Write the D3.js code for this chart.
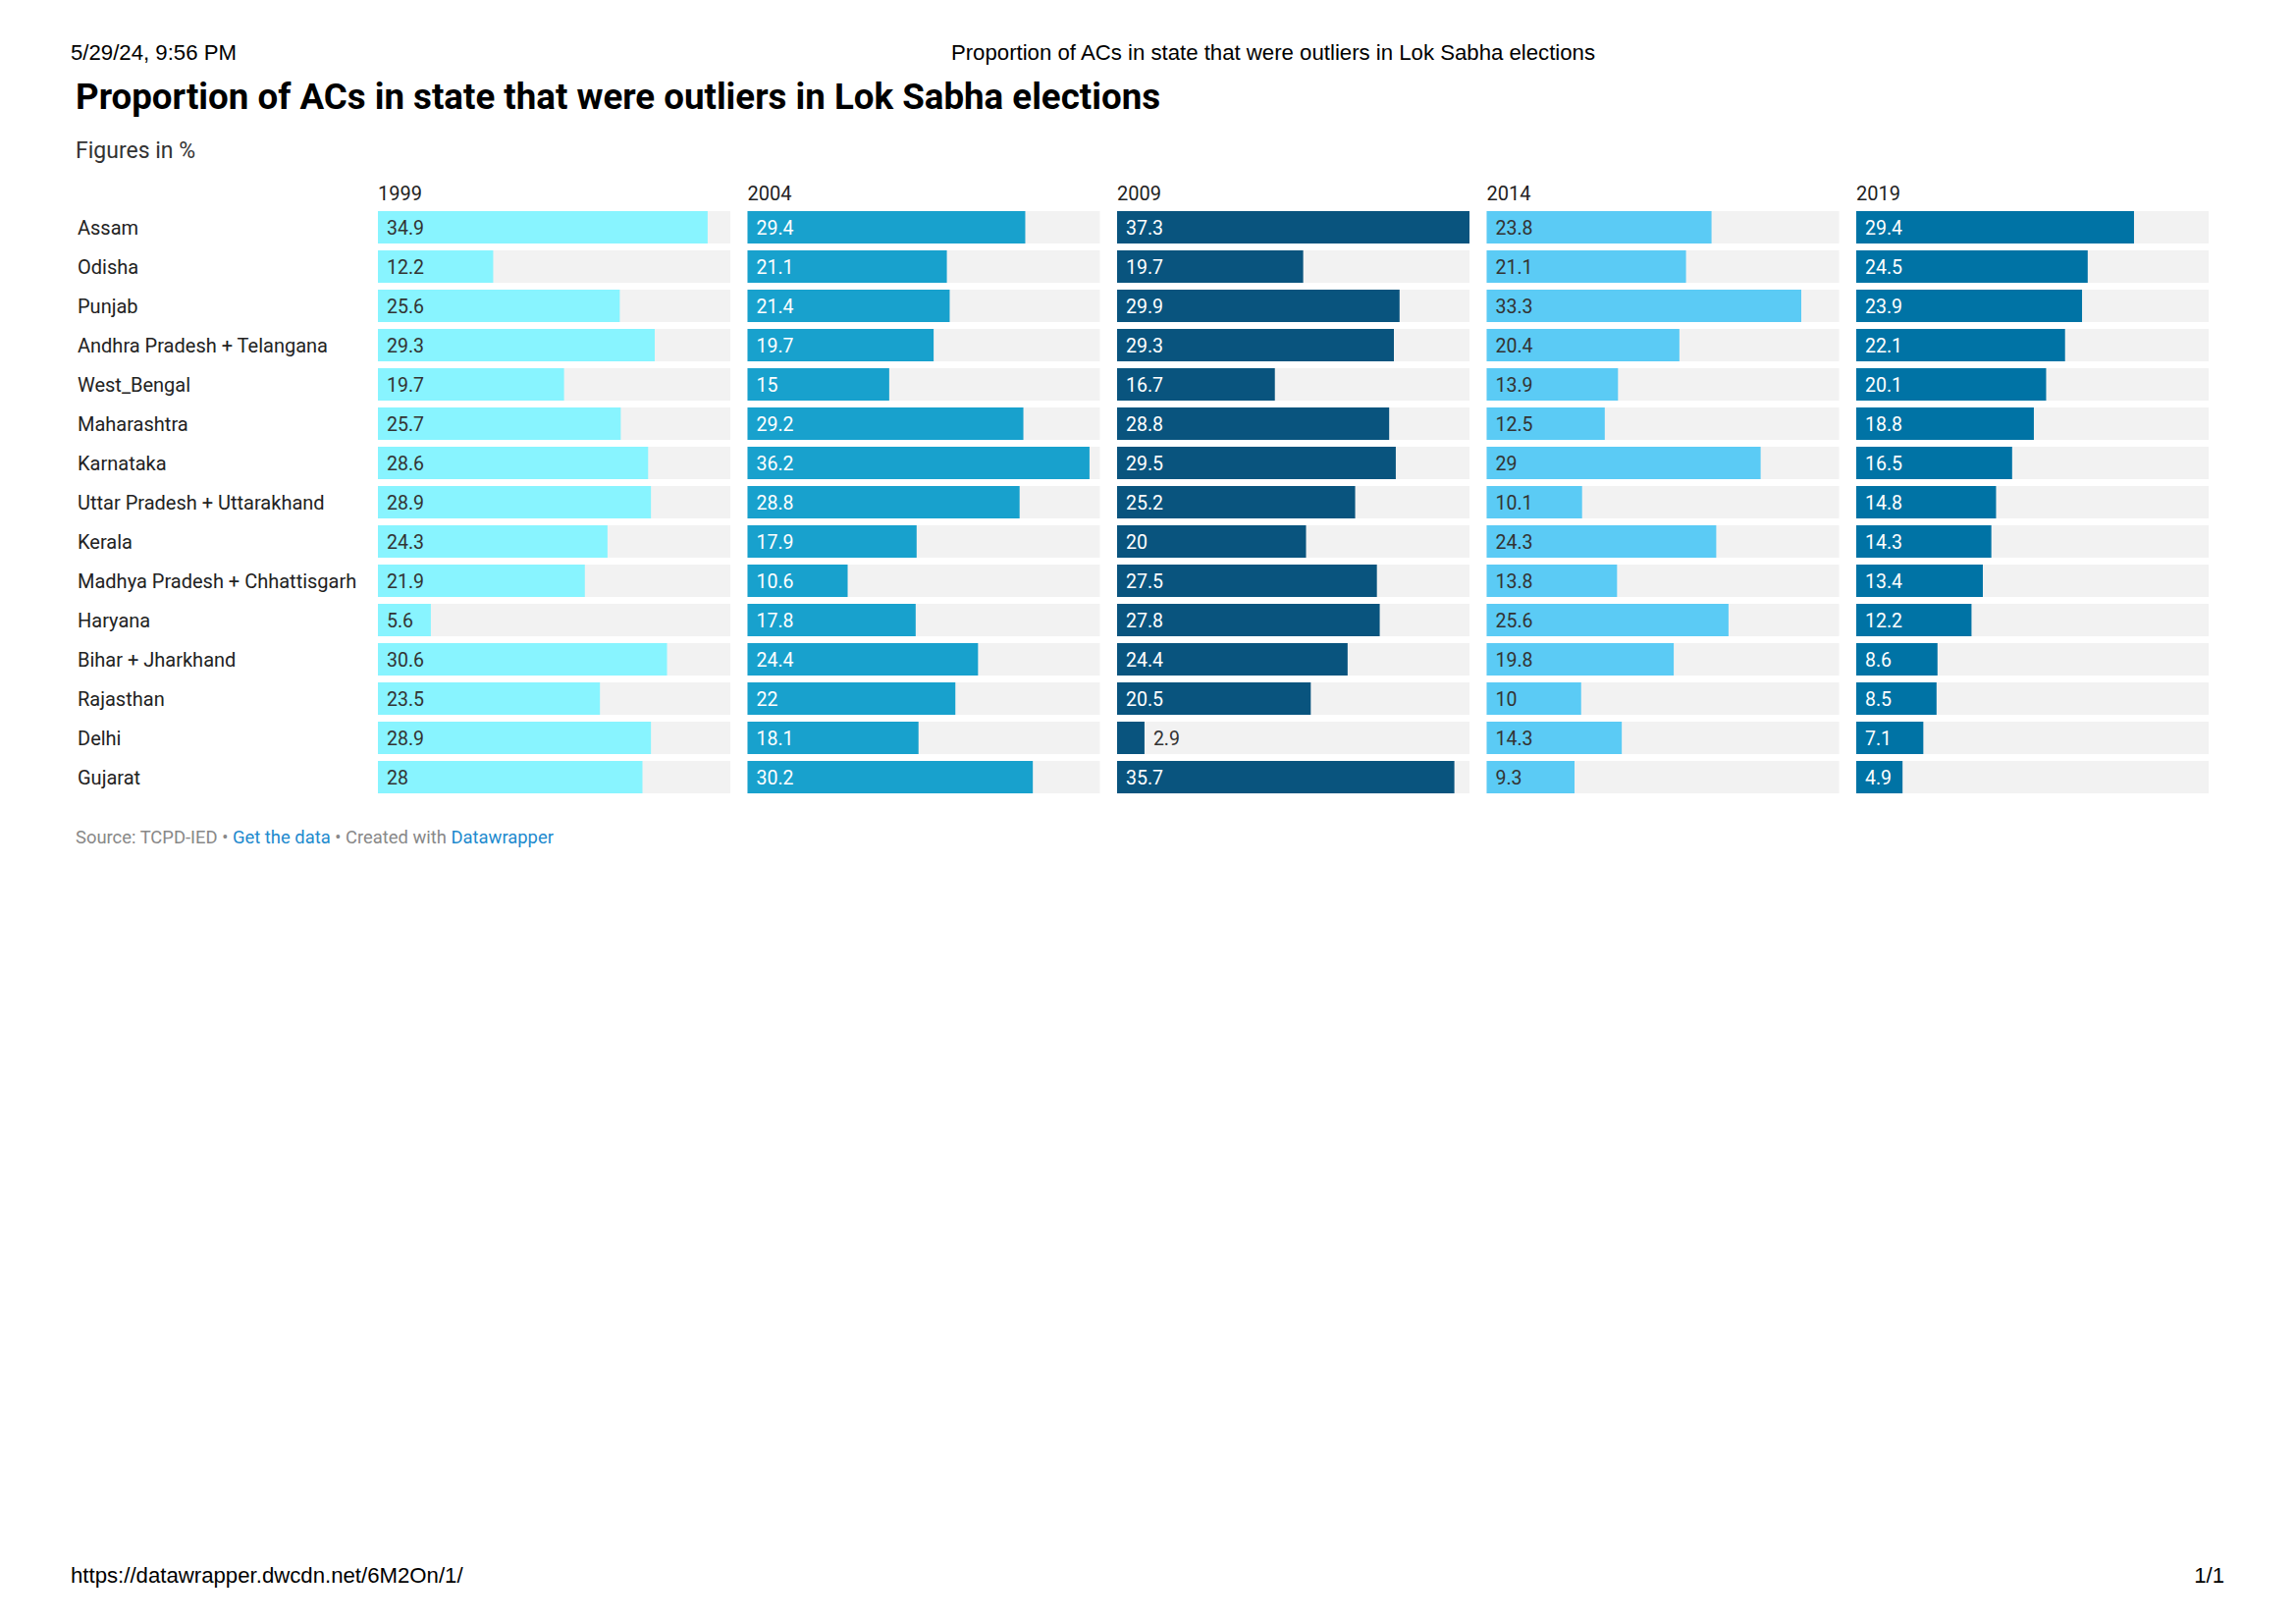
<!DOCTYPE html>
<html>
<head>
<meta charset="utf-8">
<script src="https://cdn.jsdelivr.net/npm/d3@7"></script>
<style>
  body { margin: 0; background: #fff; }
  svg text { font-family: Roboto, sans-serif; }
</style>
</head>
<body>
<div id="chart"></div>
<script>

var states = ["Assam", "Odisha", "Punjab", "Andhra Pradesh + Telangana", "West_Bengal", "Maharashtra",
  "Karnataka", "Uttar Pradesh + Uttarakhand", "Kerala", "Madhya Pradesh + Chhattisgarh", "Haryana",
  "Bihar + Jharkhand", "Rajasthan", "Delhi", "Gujarat"];

var years = ["1999", "2004", "2009", "2014", "2019"];

var v1999 = [34.9, 12.2, 25.6, 29.3, 19.7, 25.7, 28.6, 28.9, 24.3, 21.9, 5.6, 30.6, 23.5, 28.9, 28];
var v2004 = [29.4, 21.1, 21.4, 19.7, 15, 29.2, 36.2, 28.8, 17.9, 10.6, 17.8, 24.4, 22, 18.1, 30.2];
var v2009 = [37.3, 19.7, 29.9, 29.3, 16.7, 28.8, 29.5, 25.2, 20, 27.5, 27.8, 24.4, 20.5, 2.9, 35.7];
var v2014 = [23.8, 21.1, 33.3, 20.4, 13.9, 12.5, 29, 10.1, 24.3, 13.8, 25.6, 19.8, 10, 14.3, 9.3];
var v2019 = [29.4, 24.5, 23.9, 22.1, 20.1, 18.8, 16.5, 14.8, 14.3, 13.4, 12.2, 8.6, 8.5, 7.1, 4.9];

var series = [v1999, v2004, v2009, v2014, v2019];
var colors = ["#88f4ff", "#18a1cd", "#09547e", "#5bcbf5", "#0073a5"];
var darkBar = [false, true, true, false, true];

var totalWidth = 2339, totalHeight = 1653;

var svg = d3.select("#chart").append("svg")
  .attr("width", totalWidth)
  .attr("height", totalHeight);

var printFont = "'Liberation Sans', Arial, sans-serif";

// print header / footer
svg.append("text").attr("x", 72).attr("y", 60.5)
  .style("font-family", printFont).style("font-size", "22.2px").attr("fill", "#000")
  .text("5/29/24, 9:56 PM");
svg.append("text").attr("x", 1297).attr("y", 60.5).attr("text-anchor", "middle")
  .style("font-family", printFont).style("font-size", "22.2px").attr("fill", "#000")
  .text("Proportion of ACs in state that were outliers in Lok Sabha elections");
svg.append("text").attr("x", 72).attr("y", 1611.5)
  .style("font-family", printFont).style("font-size", "22.2px").attr("fill", "#000")
  .text("https://datawrapper.dwcdn.net/6M2On/1/");
svg.append("text").attr("x", 2266).attr("y", 1611.5).attr("text-anchor", "end")
  .style("font-family", printFont).style("font-size", "22.2px").attr("fill", "#000")
  .text("1/1");

// title
svg.append("text").attr("x", 77).attr("y", 111)
  .style("font-size", "36.7px").style("font-weight", "700").attr("fill", "#000")
  .text("Proportion of ACs in state that were outliers in Lok Sabha elections");
svg.append("text").attr("x", 77).attr("y", 161)
  .style("font-size", "23px").attr("fill", "#333")
  .text("Figures in %");

var colScale = d3.scaleBand()
  .domain(years)
  .range([385, 2250])
  .paddingInner(0.0465)
  .paddingOuter(0);

var yScale = d3.scaleBand()
  .domain(states)
  .range([215, 808])
  .paddingInner(0.175)
  .paddingOuter(0);

var xScale = d3.scaleLinear()
  .domain([0, d3.max(series, function (s) { return d3.max(s); })])
  .range([0, colScale.bandwidth()]);

// row labels
svg.append("g").selectAll("text")
  .data(states)
  .enter().append("text")
  .attr("x", 79)
  .attr("y", function (d) { return yScale(d) + yScale.bandwidth() / 2; })
  .attr("dy", "0.35em")
  .style("font-size", "20px")
  .attr("fill", "#222")
  .text(function (d) { return d; });

function textWidth(text, font) {
  var ctx = document.createElement("canvas").getContext("2d");
  ctx.font = font;
  return ctx.measureText(text).width;
}

years.forEach(function (yr, k) {
  var g = svg.append("g")
    .attr("transform", "translate(" + colScale(yr) + ",0)");

  g.append("text")
    .attr("x", 0).attr("y", 203.5)
    .style("font-size", "20px").attr("fill", "#222")
    .text(yr);

  var rows = states.map(function (s, i) { return { state: s, value: series[k][i] }; });

  g.selectAll("rect.bg")
    .data(rows).enter().append("rect")
    .attr("class", "bg")
    .attr("x", 0)
    .attr("y", function (d) { return yScale(d.state); })
    .attr("width", colScale.bandwidth())
    .attr("height", yScale.bandwidth())
    .attr("fill", "#f2f2f2");

  g.selectAll("rect.bar")
    .data(rows).enter().append("rect")
    .attr("class", "bar")
    .attr("x", 0)
    .attr("y", function (d) { return yScale(d.state); })
    .attr("width", function (d) { return xScale(d.value); })
    .attr("height", yScale.bandwidth())
    .attr("fill", colors[k]);

  g.selectAll("text.val")
    .data(rows).enter().append("text")
    .attr("class", "val")
    .each(function (d) {
      var label = String(d.value);
      var w = textWidth(label, "19.5px Roboto");
      var bw = xScale(d.value);
      var inside = bw >= w + 16;
      d3.select(this)
        .attr("x", inside ? 9 : bw + 9)
        .attr("y", yScale(d.state) + yScale.bandwidth() / 2)
        .attr("dy", "0.36em")
        .style("font-size", "19.5px")
        .attr("fill", inside && darkBar[k] ? "#fff" : "#333")
        .text(label);
    });
});

// footer source line
var src = svg.append("text").attr("x", 77).attr("y", 859)
  .style("font-size", "18.4px").attr("fill", "#888");
src.append("tspan").text("Source: TCPD-IED • ");
src.append("tspan").attr("fill", "#1d8ace").text("Get the data");
src.append("tspan").text(" • Created with ");
src.append("tspan").attr("fill", "#1d8ace").text("Datawrapper");

</script>
</body>
</html>
